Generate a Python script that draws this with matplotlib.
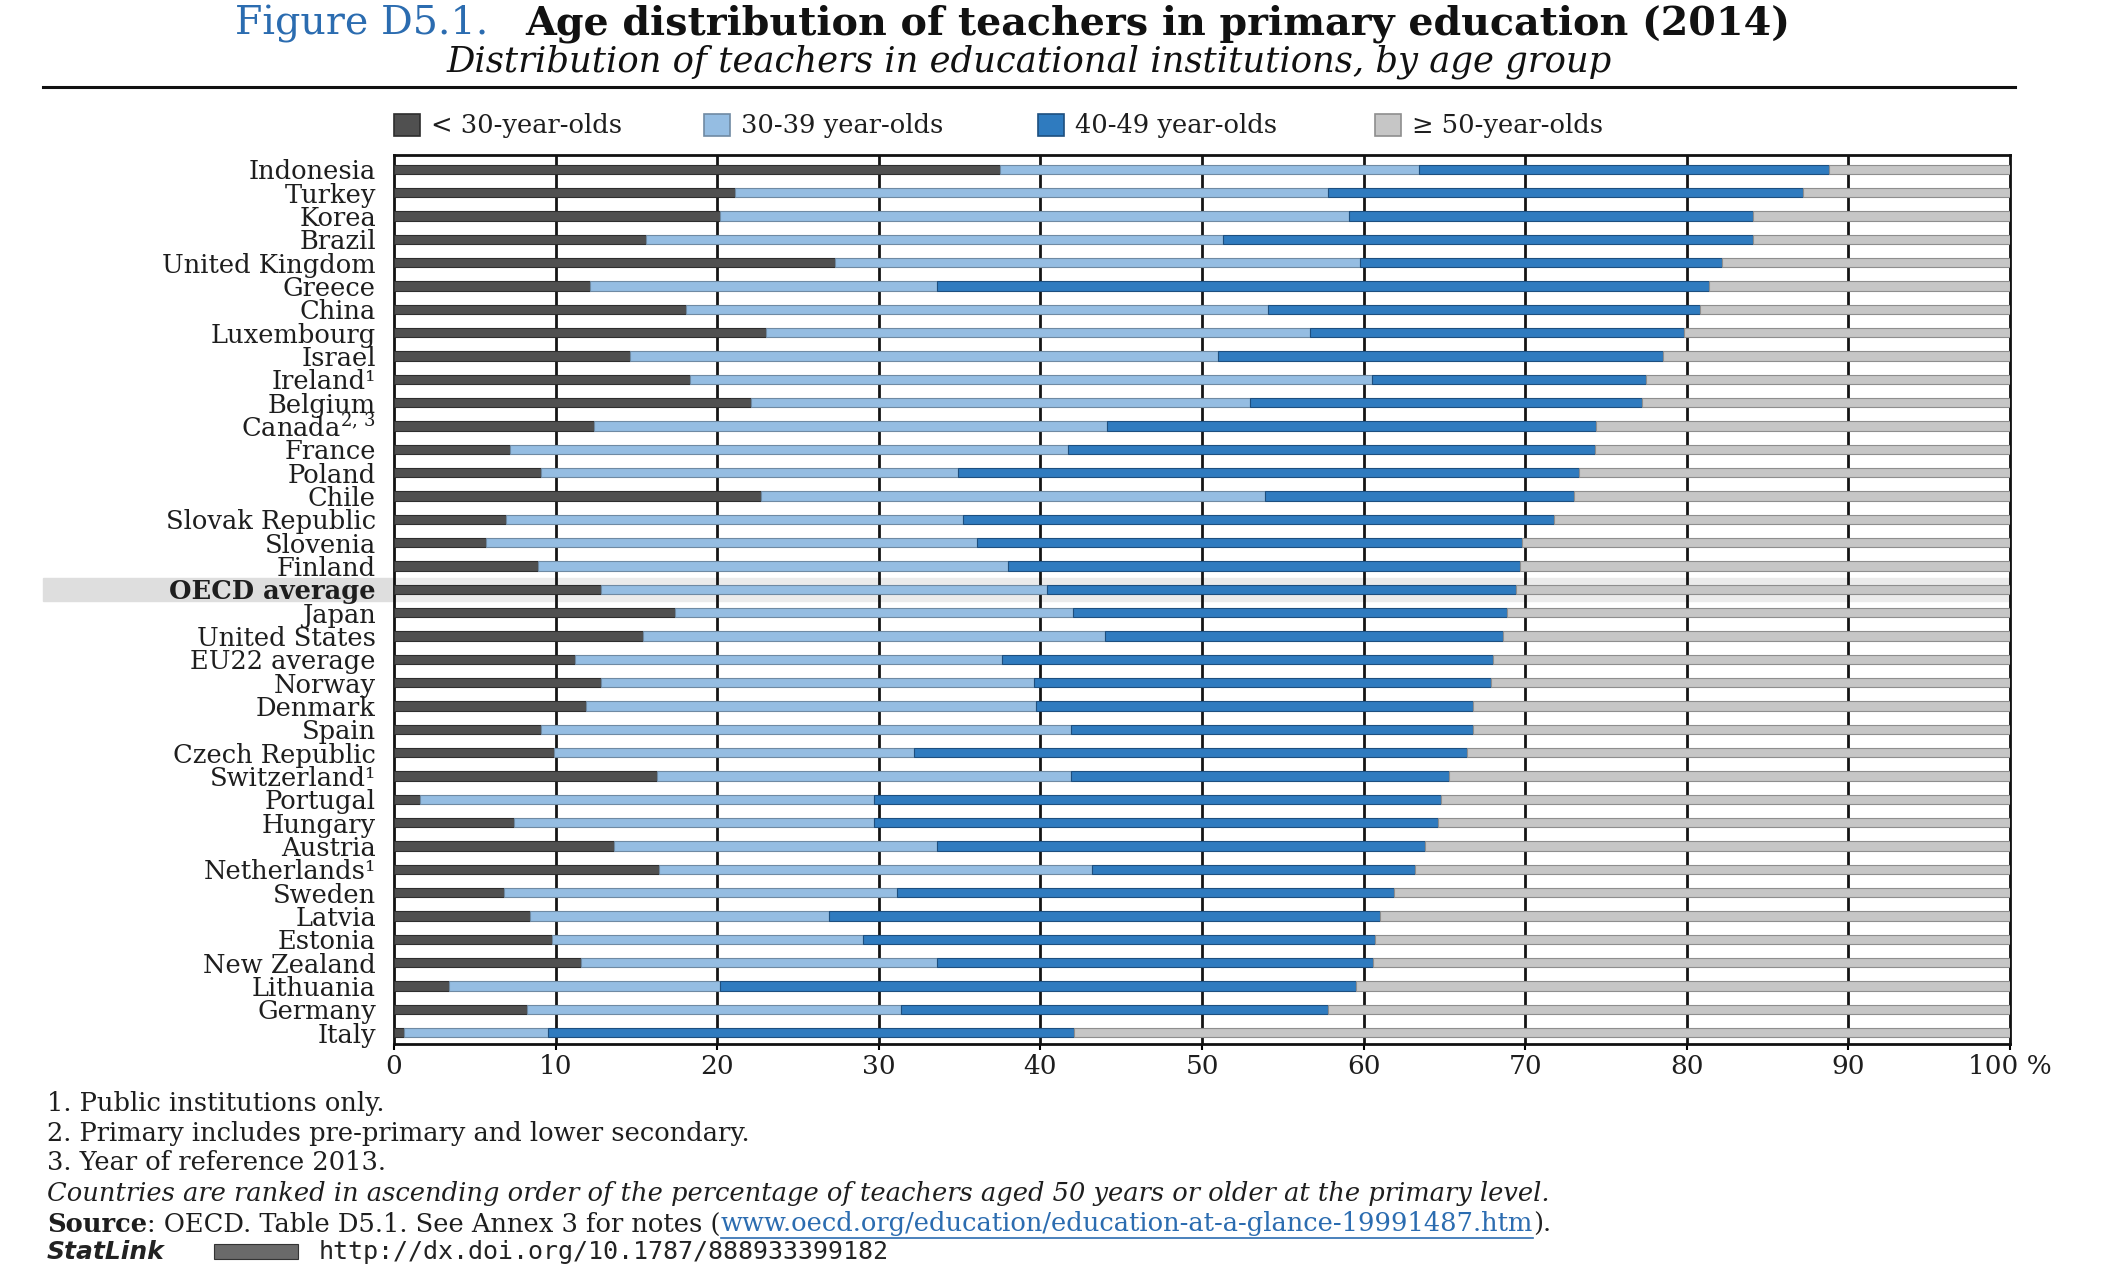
import matplotlib
matplotlib.use("Agg")
import matplotlib.pyplot as plt
from matplotlib.patches import Rectangle
from matplotlib.lines import Line2D
import numpy as np

countries = ["Indonesia", "Turkey", "Korea", "Brazil", "United Kingdom", "Greece", "China",
             "Luxembourg", "Israel", "Ireland¹", "Belgium", r"Canada$^{2,\,3}$", "France",
             "Poland", "Chile", "Slovak Republic", "Slovenia", "Finland", "OECD average",
             "Japan", "United States", "EU22 average", "Norway", "Denmark", "Spain",
             "Czech Republic", "Switzerland¹", "Portugal", "Hungary", "Austria",
             "Netherlands¹", "Sweden", "Latvia", "Estonia", "New Zealand", "Lithuania",
             "Germany", "Italy"]

under_30 = [37.5, 21.1, 20.2, 15.6, 27.3, 12.1, 18.1, 23.0, 14.6, 18.3, 22.1, 12.4, 7.2,
            9.1, 22.7, 6.9, 5.7, 8.9, 12.8, 17.4, 15.4, 11.2, 12.8, 11.9, 9.1, 9.9, 16.3,
            1.6, 7.4, 13.6, 16.4, 6.8, 8.4, 9.8, 11.6, 3.4, 8.2, 0.6]
age_30_39 = [25.9, 36.7, 38.9, 35.7, 32.5, 21.5, 36.0, 33.7, 36.4, 42.2, 30.9, 31.7, 34.5,
             25.8, 31.2, 28.3, 30.4, 29.1, 27.6, 24.6, 28.6, 26.4, 26.8, 27.8, 32.8, 22.3,
             25.6, 28.1, 22.3, 20.0, 26.8, 24.3, 18.5, 19.2, 22.0, 16.8, 23.2, 8.9]
age_40_49 = [25.4, 29.4, 25.0, 32.8, 22.4, 47.8, 26.7, 23.1, 27.5, 17.0, 24.2, 30.3, 32.6,
             38.4, 19.1, 36.6, 33.7, 31.7, 29.0, 26.9, 24.6, 30.4, 28.3, 27.1, 24.9, 34.2,
             23.4, 35.1, 34.9, 30.2, 20.0, 30.8, 34.1, 31.7, 27.0, 39.3, 26.4, 32.6]
age_50_plus = [11.2, 12.8, 15.9, 15.9, 17.8, 18.6, 19.2, 20.2, 21.5, 22.5, 22.8, 25.6, 25.7,
               26.7, 27.0, 28.2, 30.2, 30.3, 30.6, 31.1, 31.4, 32.0, 32.1, 33.2, 33.2, 33.6,
               34.7, 35.2, 35.4, 36.2, 36.8, 38.1, 39.0, 39.3, 39.4, 40.5, 42.2, 57.9]

series_labels = ["< 30-year-olds", "30-39 year-olds", "40-49 year-olds", "\u2265 50-year-olds"]
x_ticks = [0, 10, 20, 30, 40, 50, 60, 70, 80, 90, 100]
x_tick_labels = ["0", "10", "20", "30", "40", "50", "60", "70", "80", "90", "100 %"]

colors = ["#505050", "#95bde2", "#2f7bbf", "#c6c6c6"]
edges = ["#2e2e2e", "#6f8aa3", "#1d4f7f", "#8e8e8e"]

W, H = 2128, 1277
plt.rcParams["font.family"] = ["DejaVu Serif"]
plt.rcParams["mathtext.fontset"] = "dejavuserif"
fig = plt.figure(figsize=(W / 100, H / 100), dpi=100)
TXT = "#1e1e1e"


def F(x, y):
    return x / W, 1 - y / H


ax_l, ax_r, ax_t, ax_b = 394, 2010, 155, 1044
ax = fig.add_axes([ax_l / W, 1 - ax_b / H, (ax_r - ax_l) / W, (ax_b - ax_t) / H])

n = len(countries)
ypos = np.arange(n)
series = [under_30, age_30_39, age_40_49, age_50_plus]
left = np.zeros(n)
for vals, c, e, lab in zip(series, colors, edges, series_labels):
    vals = np.array(vals)
    ax.barh(ypos, vals, left=left, height=0.4, color=c, edgecolor=e, linewidth=0.8,
            label=lab, zorder=3)
    left = left + vals

ylo, yhi = n - 0.52, -0.61
ax.set_xlim(0, 100)
ax.set_ylim(ylo, yhi)
ax.set_xticks(x_ticks)
ax.set_xticklabels(x_tick_labels, fontsize=19, color=TXT)
ax.set_yticks(ypos)
labels = ax.set_yticklabels(countries, fontsize=18.5, color=TXT)
for t in labels:
    if t.get_text() == "OECD average":
        t.set_fontweight("bold")
ax.tick_params(axis="y", length=0, pad=13)
ax.tick_params(axis="x", length=4, width=1.5, pad=3)
for x in x_ticks[1:-1]:
    ax.axvline(x, color="#151515", lw=2.0, zorder=1)
for s in ax.spines.values():
    s.set_linewidth(2.0)
    s.set_color("#111111")

# OECD highlight band
oi = countries.index("OECD average")
ax.axhspan(oi - 0.5, oi + 0.5, color="#ebebeb", zorder=0)
unit = (ax_b - ax_t) / (ylo - yhi)
band_top = ax_t + (oi - 0.5 - yhi) * unit
fig.patches.append(Rectangle(F(43, band_top + unit), (ax_l - 43) / W, unit / H,
                             transform=fig.transFigure, color="#dedede", zorder=-5))

# legend (drawn as figure-level key)
leg_sq_x = [394, 704, 1038, 1375]
for xs, c, e, lab in zip(leg_sq_x, colors, edges, series_labels):
    fig.patches.append(Rectangle(F(xs, 136), 26 / W, 22 / H, transform=fig.transFigure,
                                 facecolor=c, edgecolor=e, linewidth=1.2))
    fig.text(*F(xs + 37, 125), lab, fontsize=18.5, va="center", ha="left", color=TXT)

# title
fig.text(*F(235, 24), "Figure D5.1.", color="#2b6cb0", fontsize=28.5, va="center", ha="left")
fig.text(*F(525, 24), "Age distribution of teachers in primary education (2014)",
         fontsize=28.5, fontweight="bold", va="center", ha="left", color="#111111")
fig.text(*F(1029, 62), "Distribution of teachers in educational institutions, by age group",
         fontsize=25.5, style="italic", va="center", ha="center", color="#111111")
fig.lines.append(Line2D([43 / W, 2015 / W], [1 - 87 / H] * 2, transform=fig.transFigure,
                        color="#111111", lw=2.2))

# footer
fs = 18.5
fig.text(*F(47, 1103), "1. Public institutions only.", fontsize=fs, va="center", color=TXT)
fig.text(*F(47, 1133), "2. Primary includes pre-primary and lower secondary.", fontsize=fs,
         va="center", color=TXT)
fig.text(*F(47, 1163), "3. Year of reference 2013.", fontsize=fs, va="center", color=TXT)
fig.text(*F(47, 1194), "Countries are ranked in ascending order of the percentage of teachers aged 50 years or older at the primary level.",
         fontsize=fs, style="italic", va="center", color=TXT)

renderer = fig.canvas.get_renderer()
x = 47
pieces = [("Source", dict(fontweight="bold")),
          (": OECD. Table D5.1. See Annex 3 for notes (", {}),
          ("www.oecd.org/education/education-at-a-glance-19991487.htm", dict(color="#2b6cb0")),
          (").", {})]
for s, kw in pieces:
    kw = dict(kw)
    kw.setdefault("color", TXT)
    t = fig.text(*F(x, 1224), s, fontsize=fs, va="center", **kw)
    bb = t.get_window_extent(renderer)
    if kw["color"] != TXT:
        fig.lines.append(Line2D([bb.x0 / W, bb.x1 / W], [(bb.y0 - 1) / H] * 2,
                                transform=fig.transFigure, color="#2b6cb0", lw=1.2))
    x = bb.x1

fig.text(*F(47, 1252), "StatLink", fontsize=18, family="DejaVu Sans", fontweight="bold",
         style="italic", va="center", color="#222222")
fig.patches.append(Rectangle(F(214, 1259), 84 / W, 15 / H, transform=fig.transFigure,
                             facecolor="#6a6a6a", edgecolor="#333333", lw=0.8))
fig.text(*F(319, 1252), "http://dx.doi.org/10.1787/888933399182", fontsize=18,
         family="DejaVu Sans Mono", va="center", color="#222222")

fig.savefig("out.png", dpi=100)
